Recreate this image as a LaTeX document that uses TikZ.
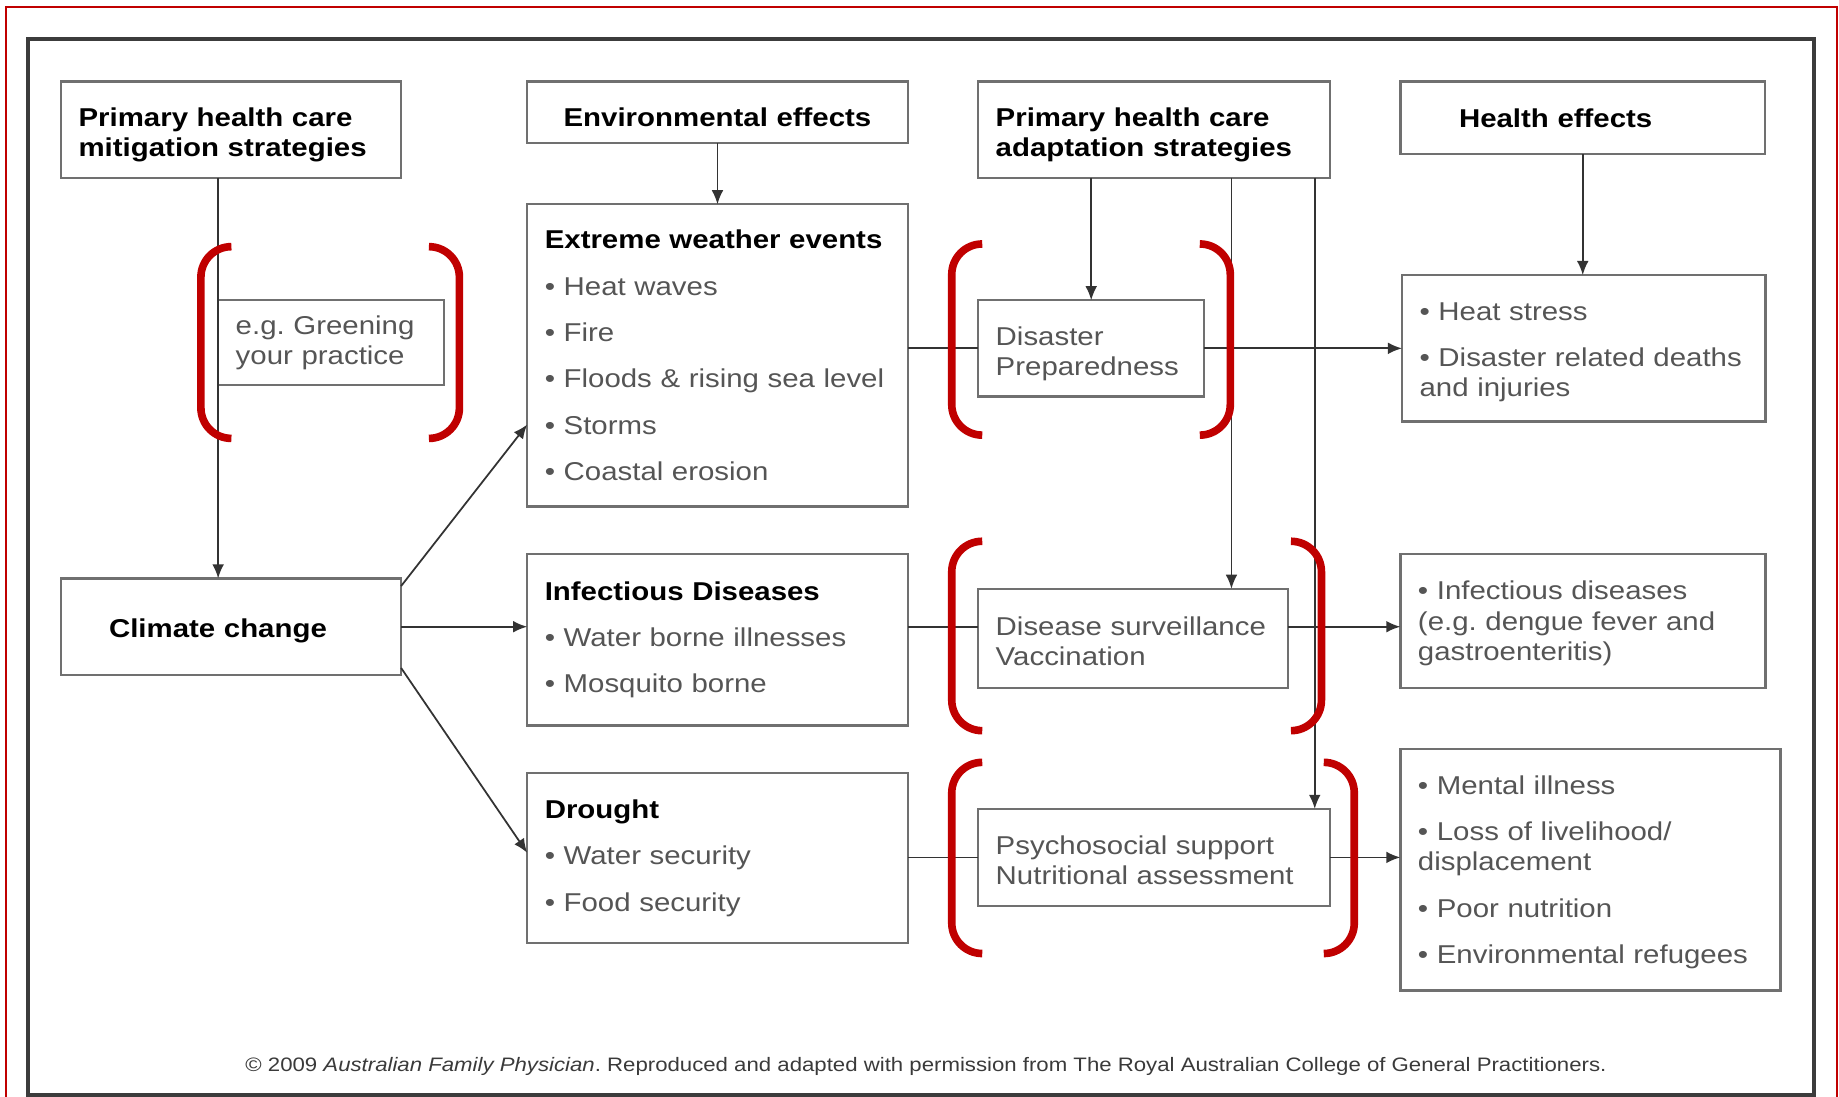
\documentclass[tikz,border=0pt]{standalone}
\usepackage{fontspec}
\setmainfont[FakeStretch=1.14]{Liberation Sans}
\usetikzlibrary{arrows.meta}
\frenchspacing

\definecolor{boxgray}{HTML}{707070}
\definecolor{textgray}{HTML}{555555}
\definecolor{linegray}{HTML}{333333}
\definecolor{framegray}{HTML}{3C3C3C}
\definecolor{notegray}{HTML}{3A3A3A}
\definecolor{bracketred}{HTML}{C00000}

\newcommand\bodysize{\fontsize{22}{26}\selectfont}
\newcommand\notesize{\fontsize{16.6}{20}\selectfont}
\newcommand\boxtitle[1]{{\color{black}\bfseries #1}}

\begin{document}
\begin{tikzpicture}[x=1pt, y=-1pt, >={Latex[length=12pt, width=10pt]},
  lower/.style={execute at begin node={\rule{0pt}{#1}}},
  box/.style={draw=boxgray, line width=2pt, anchor=north west, align=left,
    inner xsep=15pt, inner ysep=0pt, outer sep=0pt, font=\bodysize, text=textgray},
  head/.style={box, font=\bodysize\bfseries, text=black},
  link/.style={draw=linegray, line width=1.5pt},
  bracket/.style={draw=bracketred, line width=6.5pt, rounded corners=26pt}]
  \useasboundingbox (0,0) rectangle (1568,935);
  \draw[bracketred, line width=1.7pt] (5,6.3) rectangle (1566.4,960);
  \draw[framegray, line width=3.4pt] (23.9,33) rectangle (1547,933.5);

  % headings
  \node[head, text width=260pt, minimum height=82pt, lower=25pt] (mitig) at (52,69.5) {Primary health care\\mitigation strategies};
  \node[head, align=center, text width=294.5pt, minimum height=52.5pt, lower=24pt] (envfx) at (449.5,69.5) {Environmental effects};
  \node[head, text width=270pt, minimum height=82pt, lower=25pt] (adapt) at (834,69.5) {Primary health care\\adaptation strategies};
  \node[head, inner xsep=50pt, text width=211pt, minimum height=62pt] (healthfx) at (1194,69.5) {Health effects};

  % first row
  \node[box, text width=162.7pt, minimum height=72.3pt] (green) at (186,256) {e.g. Greening\\your practice};
  \node[box, text width=294.5pt, minimum height=257.6pt] (extreme) at (449.5,174.2) {\boxtitle{Extreme weather events}\\[13.5pt]• Heat waves\\[13.5pt]• Fire\\[13.5pt]• Floods \& rising sea level\\[13.5pt]• Storms\\[13.5pt]• Coastal erosion};
  \node[box, text width=162.8pt, minimum height=82pt, lower=25pt] (disprep) at (834,256) {Disaster\\Preparedness};
  \node[box, text width=280pt, minimum height=125pt, lower=22pt] (heat) at (1195.4,234.5) {• Heat stress\\[13.5pt]• Disaster related deaths\\and injuries};

  % second row
  \node[head, inner xsep=41pt, text width=208pt, minimum height=82.3pt, lower=23pt] (climate) at (52,493.2) {Climate change};
  \node[box, text width=294.5pt, minimum height=146pt] (infect) at (449.5,472.6) {\boxtitle{Infectious Diseases}\\[13.5pt]• Water borne illnesses\\[13.5pt]• Mosquito borne};
  \node[box, text width=234pt, minimum height=84.7pt, lower=21pt] (survey) at (834,502) {Disease surveillance\\Vaccination};
  \node[box, text width=281.3pt, minimum height=114pt, lower=20pt] (infhealth) at (1194,472.6) {• Infectious diseases\\(e.g. dengue fever and\\gastroenteritis)};

  % third row
  \node[box, text width=294.5pt, minimum height=145.2pt] (drought) at (449.5,659) {\boxtitle{Drought}\\[13.5pt]• Water security\\[13.5pt]• Food security};
  \node[box, text width=270pt, minimum height=82.7pt, lower=21pt] (psycho) at (834,689.7) {Psychosocial support\\Nutritional assessment};
  \node[box, text width=294pt, minimum height=206pt, lower=20pt] (mental) at (1194,638.6) {• Mental illness\\[13.5pt]• Loss of livelihood/\\displacement\\[13.5pt]• Poor nutrition\\[13.5pt]• Environmental refugees};

  \node[font=\notesize, text=notegray] (note) at (789.5,909) {© 2009 \textit{Australian Family Physician}. Reproduced and adapted with permission from The Royal Australian College of General Practitioners.};

  % connectors
  \draw[link, ->] (mitig.south -| green.west) -- (climate.north -| green.west);
  \draw[link, ->] (envfx) -- (extreme);
  \draw[link, ->] (adapt.south -| disprep.north) -- (disprep.north);
  \draw[link, ->] ([xshift=66pt]adapt.south) -- ([xshift=66pt]adapt.south |- survey.north);
  \draw[link, ->] ([xshift=137pt]adapt.south) -- ([xshift=137pt]adapt.south |- psycho.north);
  \draw[link, ->] (healthfx.south) -- (healthfx.south |- heat.north);

  \draw[link, ->] ([yshift=-6.5pt]climate.north east) -- ([yshift=-59pt]extreme.west);
  \draw[link, ->] (climate.east) -- (climate.east -| infect.west);
  \draw[link, ->] ([yshift=6pt]climate.south east) -- ([yshift=4.5pt]drought.west);

  \draw[link] (extreme.east |- disprep.west) -- (disprep.west);
  \draw[link, ->] (disprep.east) -- (disprep.east -| heat.west);
  \draw[link] (infect.east |- climate.east) -- (survey.west |- climate.east);
  \draw[link, ->] (survey.east |- climate.east) -- (infhealth.west |- climate.east);
  \draw[link] (drought.east |- psycho.west) -- (psycho.west);
  \draw[link, ->] (psycho.east) -- (psycho.east -| mental.west);

  % red brackets
  \foreach \xl/\xr/\yt/\yb in {171.3/391.7/210.3/373.8, 811.5/1049/208/371,
      811.5/1126.7/461.5/623, 811.5/1154.7/650/813} {
    \draw[bracket] (\xl+26,\yt) -- (\xl,\yt) -- (\xl,\yb) -- (\xl+26,\yb);
    \draw[bracket] (\xr-26,\yt) -- (\xr,\yt) -- (\xr,\yb) -- (\xr-26,\yb);
  }
\end{tikzpicture}
\end{document}
